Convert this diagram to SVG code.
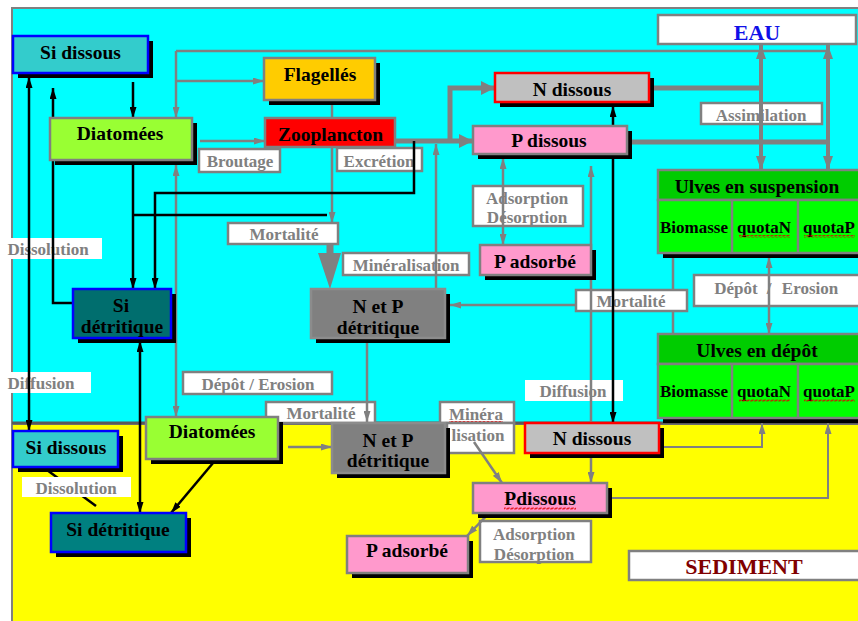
<svg xmlns="http://www.w3.org/2000/svg" width="858" height="621" viewBox="0 0 858 621">
<defs>
<style>
text{font-family:"Liberation Serif","Times New Roman",serif;font-weight:bold;text-anchor:middle}
.t{font-size:19.5px;fill:#000}
.u{font-size:17px;fill:#000}
.l{font-size:17px;fill:#808080}
.sh{fill:#000}
.bx{stroke:#808080;stroke-width:2.5}
.bl{stroke:#0000FF;stroke-width:2.5}
.lbox{fill:#fff;stroke:#808080;stroke-width:2.5}
.wbox{fill:#fff}
.g{fill:none;stroke:#808080;stroke-width:2.5}
.g2{fill:none;stroke:#808080;stroke-width:2}
.g4{fill:none;stroke:#808080;stroke-width:4}
.gt{fill:none;stroke:#808080;stroke-width:5}
.k{fill:none;stroke:#000;stroke-width:2.5}
.sq{fill:url(#sq)}
</style>
<marker id="ag" viewBox="0 0 11 7" refX="11" refY="3.5" markerWidth="11" markerHeight="7" markerUnits="userSpaceOnUse" orient="auto-start-reverse"><path d="M0,0 L11,3.5 L0,7 z" fill="#808080"/></marker>
<marker id="agM" viewBox="0 0 14 10" refX="14" refY="5" markerWidth="14" markerHeight="10" markerUnits="userSpaceOnUse" orient="auto-start-reverse"><path d="M0,0 L14,5 L0,10 z" fill="#808080"/></marker>
<marker id="agL" viewBox="0 0 14 14" refX="14" refY="7" markerWidth="14" markerHeight="14" markerUnits="userSpaceOnUse" orient="auto-start-reverse"><path d="M0,0 L14,7 L0,14 z" fill="#808080"/></marker>
<marker id="ab" viewBox="0 0 11 7" refX="11" refY="3.5" markerWidth="11" markerHeight="7" markerUnits="userSpaceOnUse" orient="auto-start-reverse"><path d="M0,0 L11,3.5 L0,7 z" fill="#000"/></marker>
<pattern id="sq" width="4" height="3" patternUnits="userSpaceOnUse"><path d="M0,2.5 L1,0.5 L3,2.5 L4,0.5" fill="none" stroke="#e00000" stroke-width="0.8"/></pattern>
</defs>

<!-- background -->
<rect width="858" height="621" fill="#fff"/>
<rect x="12" y="8" width="850" height="415" fill="#00FFFF" stroke="#808080" stroke-width="2"/>
<rect x="12" y="424" width="850" height="200" fill="#FFFF00" stroke="#808080" stroke-width="2"/>
<line x1="12" y1="423" x2="858" y2="423" stroke="#5a5a5a" stroke-width="3"/>

<!-- labels -->
<g id="labels">
<rect class="lbox" x="199" y="149" width="81" height="23"/><text class="l" x="240" y="167">Broutage</text>
<rect class="lbox" x="337" y="148" width="85" height="23"/><text class="l" x="379" y="167">Excrétion</text>
<rect class="lbox" x="701" y="103" width="121" height="21"/><text class="l" x="761" y="121">Assimilation</text>
<rect class="lbox" x="473" y="186" width="110" height="40"/><text class="l" x="527" y="204">Adsorption</text><text class="l" x="527" y="223">Désorption</text>
<rect class="lbox" x="228" y="223" width="110" height="21"/><text class="l" x="284" y="240">Mortalité</text>
<rect class="lbox" x="343" y="253" width="126" height="22"/><text class="l" x="406" y="271">Minéralisation</text>
<rect class="wbox" x="0" y="238" width="102" height="21"/><text class="l" x="48" y="255">Dissolution</text>
<rect class="wbox" x="0" y="372" width="91" height="21"/><text class="l" x="41" y="389">Diffusion</text>
<rect class="lbox" x="183" y="372" width="149" height="22"/><text class="l" x="258" y="390">Dépôt / Erosion</text>
<rect class="lbox" x="576" y="290" width="111" height="21"/><text class="l" x="631" y="307">Mortalité</text>
<rect class="lbox" x="694" y="275" width="166" height="31"/><text class="l" x="736" y="294">Dépôt<tspan x="769">/</tspan><tspan x="810">Erosion</tspan></text>
<rect class="wbox" x="525" y="380" width="98" height="21"/><text class="l" x="573" y="397">Diffusion</text>
<rect class="lbox" x="266" y="402" width="109" height="21"/><text class="l" x="321" y="419">Mortalité</text>
<rect class="lbox" x="440" y="402" width="74" height="21"/><text class="l" x="476" y="420">Minéra</text><rect class="sq" x="449" y="421" width="54" height="3"/>
<rect class="lbox" x="447" y="423" width="67" height="30"/><text class="l" x="478" y="441">lisation</text>
<rect class="lbox" x="480" y="521" width="111" height="41"/><text class="l" x="534" y="540">Adsorption</text><text class="l" x="534" y="560">Désorption</text>
</g>

<!-- connectors -->
<g id="connectors">
<!-- gray thin -->
<path class="g" d="M176,51 H828"/>
<path class="g" d="M176,51 V118" marker-end="url(#ag)"/>
<path class="g" d="M176,81 H264" marker-end="url(#ag)"/>
<path class="g" d="M176,165 V417" marker-start="url(#ag)" marker-end="url(#ag)"/>
<path class="g" d="M200,141 H265" marker-end="url(#ag)"/>
<path class="g" d="M332,100 V118"/>
<path class="g" d="M332,147 V223" marker-end="url(#ag)"/>
<rect x="326.5" y="244" width="7" height="10" fill="#808080"/>
<polygon points="318,253 341,253 330,289" fill="#808080"/>
<path class="gt" d="M395,141 H473" marker-end="url(#agL)"/>
<path class="gt" d="M450,141 V88 H495" marker-end="url(#agL)"/>
<path class="g" d="M436,289 V144" marker-end="url(#ag)"/>
<path class="g" d="M503,158 V245" marker-start="url(#ag)" marker-end="url(#ag)"/>
<path class="g" d="M591,166 V483" marker-start="url(#ag)" marker-end="url(#ag)"/>
<path class="gt" d="M649,88 H761"/>
<path class="gt" d="M627,142 H828"/>
<path class="g4" d="M761,45 V170" marker-start="url(#agM)" marker-end="url(#agM)"/>
<path class="g4" d="M828,45 V170" marker-start="url(#agM)" marker-end="url(#agM)"/>
<path class="g" d="M673,253 V290 M673,311 V334"/>
<path class="g" d="M576,305 H450" marker-end="url(#ag)"/>
<path class="g" d="M769,257 V334" marker-start="url(#ag)" marker-end="url(#ag)"/>
<path class="g" d="M367,338 V422" marker-end="url(#ag)"/>
<path class="g" d="M288,447 H332" marker-end="url(#ag)"/>
<path class="g" d="M474,442 L502,483" marker-end="url(#ag)"/>
<path class="g" d="M495,507 L467,536" marker-start="url(#ag)" marker-end="url(#ag)"/>
<path class="g2" d="M659,447 H762 V423" marker-end="url(#ag)"/>
<path class="g2" d="M607,498 H828 V423" marker-end="url(#ag)"/>
<!-- black -->
<path class="k" d="M133,82 V118" marker-end="url(#ab)"/>
<path class="k" d="M29,77 V431" marker-start="url(#ab)" marker-end="url(#ab)"/>
<path class="k" d="M73,303 H53 V88" marker-end="url(#ab)"/>
<path class="k" d="M133,164 V289" marker-end="url(#ab)"/>
<path class="k" d="M133,215 H327"/>
<path class="k" d="M414,141 V193 H155 V289" marker-end="url(#ab)"/>
<path class="k" d="M613,106 V423" marker-start="url(#ab)" marker-end="url(#ab)"/>
<path class="k" d="M140,341 V513" marker-start="url(#ab)" marker-end="url(#ab)"/>
<path class="k" d="M213,463 L171,513" marker-end="url(#ab)"/>
<path class="k" d="M96,506 L47,470"/>
</g>

<!-- nodes -->
<g id="si-dissous-eau"><rect class="sh" x="18" y="41" width="135" height="37"/><rect class="bl" x="13" y="36" width="135" height="37" fill="#33CCCC"/><text class="t" x="80.5" y="59">Si dissous</text></g>
<g id="flagelles"><rect class="sh" x="269" y="63" width="111" height="42"/><rect class="bx" x="264" y="58" width="111" height="42" fill="#FFCC00"/><text class="t" x="320" y="81">Flagellés</text></g>
<g id="diatomees-eau"><rect class="sh" x="55" y="123" width="142" height="42"/><rect class="bx" x="50" y="118" width="142" height="42" fill="#99FF33"/><text class="t" x="120" y="140">Diatomées</text></g>
<g id="zooplancton"><rect class="bx" x="265" y="118" width="130" height="29" fill="#FF0000"/><text class="t" x="330.5" y="141">Zooplancton</text></g>
<g id="n-dissous-eau"><rect class="sh" x="500" y="78" width="154" height="29"/><rect x="495" y="73" width="154" height="29" fill="#C0C0C0" stroke="#FF0000" stroke-width="2.5"/><text class="t" x="572" y="96">N dissous</text></g>
<g id="p-dissous-eau"><rect class="sh" x="478" y="131" width="154" height="28"/><rect class="bx" x="473" y="126" width="154" height="28" fill="#FF99CC"/><text class="t" x="549" y="147">P dissous</text></g>
<g id="eau"><rect class="bx" x="658" y="15" width="198" height="29" fill="#fff"/><text x="757" y="40" style="font-size:22px;fill:#1010E8">EAU</text></g>
<g id="ulves-suspension"><rect class="sh" x="663" y="175" width="200" height="83"/><rect class="bx" x="658" y="170" width="202" height="30" fill="#00CC00"/><rect class="bx" x="658" y="200" width="202" height="53" fill="#00FF00"/><path class="bx" d="M732,200 V253 M798,200 V253" fill="none" stroke-width="1.5"/><text class="t" x="757" y="193">Ulves en suspension</text><text class="u" x="694" y="233">Biomasse</text><text class="u" x="764" y="233">quotaN</text><text class="u" x="829" y="233">quotaP</text><rect class="sq" x="739" y="235" width="51" height="3"/><rect class="sq" x="804" y="235" width="51" height="3"/></g>
<g id="ulves-depot"><rect class="sh" x="663" y="339" width="200" height="84"/><rect class="bx" x="658" y="334" width="202" height="30" fill="#00CC00"/><rect class="bx" x="658" y="364" width="202" height="54" fill="#00FF00"/><path class="bx" d="M732,364 V418 M798,364 V418" fill="none" stroke-width="1.5"/><text class="t" x="757" y="357">Ulves en dépôt</text><text class="u" x="694" y="397">Biomasse</text><text class="u" x="764" y="397">quotaN</text><text class="u" x="829" y="397">quotaP</text><rect class="sq" x="739" y="399" width="51" height="3"/><rect class="sq" x="804" y="399" width="51" height="3"/></g>
<g id="p-adsorbe-eau"><rect class="sh" x="485" y="250" width="111" height="30"/><rect class="bx" x="480" y="245" width="111" height="30" fill="#FF99CC"/><text class="t" x="535" y="268">P adsorbé</text></g>
<g id="np-detritique-eau"><rect class="sh" x="316" y="294" width="134" height="49"/><rect x="311" y="289" width="134" height="49" fill="#808080" stroke="#8c8c8c" stroke-width="2.5"/><text class="t" x="378" y="313">N et P</text><text class="t" x="378" y="334">détritique</text></g>
<g id="si-detritique-eau"><rect class="sh" x="78" y="294" width="98" height="49"/><rect class="bl" x="73" y="289" width="98" height="49" fill="#006E6E"/><text class="t" x="121" y="312">Si</text><text class="t" x="122" y="333">détritique</text></g>
<g id="si-dissous-sed"><rect class="sh" x="18" y="436" width="105" height="36"/><rect class="bl" x="13" y="431" width="105" height="36" fill="#33CCCC"/><text class="t" x="66" y="454">Si dissous</text></g>
<g id="diatomees-sed"><rect class="sh" x="151" y="422" width="132" height="42"/><rect class="bx" x="146" y="417" width="132" height="42" fill="#99FF33"/><text class="t" x="212" y="438">Diatomées</text></g>
<g id="si-detritique-sed"><rect class="sh" x="56" y="518" width="135" height="39"/><rect class="bl" x="51" y="513" width="135" height="39" fill="#008080"/><text class="t" x="118" y="536">Si détritique</text></g>
<g id="np-detritique-sed"><rect class="sh" x="337" y="428" width="113" height="50"/><rect x="332" y="423" width="113" height="50" fill="#808080" stroke="#8c8c8c" stroke-width="2.5"/><text class="t" x="388" y="447">N et P</text><text class="t" x="388" y="467">détritique</text></g>
<g id="n-dissous-sed"><rect class="sh" x="530" y="428" width="134" height="30"/><rect x="525" y="423" width="134" height="30" fill="#C0C0C0" stroke="#FF0000" stroke-width="2.5"/><text class="t" x="592" y="445">N dissous</text></g>
<g id="p-dissous-sed"><rect class="sh" x="478" y="488" width="134" height="30"/><rect class="bx" x="473" y="483" width="134" height="30" fill="#FF99CC"/><text class="t" x="540" y="505">Pdissous</text><rect class="sq" x="504" y="507" width="72" height="3"/></g>
<g id="p-adsorbe-sed"><rect class="sh" x="352" y="541" width="121" height="37"/><rect class="bx" x="347" y="536" width="121" height="37" fill="#FF99CC"/><text class="t" x="407" y="557">P adsorbé</text></g>
<g id="sediment"><rect class="bx" x="629" y="551" width="231" height="29" fill="#fff"/><text x="744" y="574" style="font-size:22px;fill:#800000">SEDIMENT</text></g>

<g id="label-dissolution-sed"><rect class="wbox" x="22" y="477" width="109" height="20"/><text class="l" x="76" y="494">Dissolution</text></g>
</svg>
